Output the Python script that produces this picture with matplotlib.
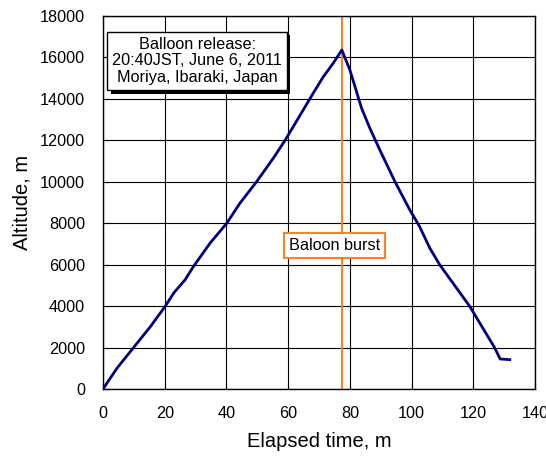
import matplotlib
matplotlib.use("Agg")
import matplotlib.pyplot as plt
import matplotlib.patheffects as pe

plt.rcParams['font.family'] = ['Liberation Sans', 'DejaVu Sans']

# Balloon flight profile
elapsed = [0, 4.5, 9.9, 15.3, 20.2, 23, 26.6, 29.3, 34.7, 40.1, 44.4, 49.8, 55.2,
           59.0, 64.9, 68.1, 71.4, 74.6, 77.4, 80.0, 83.8, 86.5, 89.7, 94.6,
           99.4, 102.6, 105.9, 109.1, 118.8, 126.9, 128.7, 132.3]
altitude = [0, 1000, 2000, 3000, 4000, 4650, 5270, 5910, 7040, 8000, 8970, 10010,
            11140, 12000, 13470, 14270, 15070, 15720, 16360, 15400, 13550, 12580,
            11540, 10010, 8650, 7840, 6800, 6000, 4000, 2000, 1450, 1410]
burst_time = 77.3
xticks = [0, 20, 40, 60, 80, 100, 120, 140]
yticks = [0, 2000, 4000, 6000, 8000, 10000, 12000, 14000, 16000, 18000]

fig = plt.figure(figsize=(5.46, 4.57), dpi=100)
ax = fig.add_axes([103 / 546, 1 - 389 / 457, 432 / 546, 373 / 457])

ax.plot(elapsed, altitude, color='#000080', lw=2.0, solid_capstyle='butt', zorder=3)
ax.axvline(burst_time, color='#FF7F27', lw=1.5, zorder=2)

ax.set_xlim(0, 140)
ax.set_ylim(0, 18000)
ax.set_xticks(xticks)
ax.set_yticks(yticks)
ax.grid(True, color='black', lw=0.8)
ax.tick_params(direction='in', length=4, labelsize=11.7, colors='black')
ax.tick_params(axis='x', pad=12)
ax.tick_params(axis='y', pad=13)
for s in ax.spines.values():
    s.set_linewidth(1.0)

ax.set_xlabel('Elapsed time, m', fontsize=14.5, labelpad=8)
ax.set_ylabel('Altitude, m', fontsize=14.5, labelpad=6)

t = ax.text(30.5, 15830, 'Balloon release:\n20:40JST, June 6, 2011\nMoriya, Ibaraki, Japan',
            ha='center', va='center', fontsize=11.7, linespacing=1.15, zorder=5,
            bbox=dict(boxstyle='square,pad=0.3', fc='white', ec='black', lw=1.0))
t.get_bbox_patch().set_path_effects([pe.withSimplePatchShadow(offset=(2.5, -2.5),
                                                              shadow_rgbFace='black', alpha=1)])

ax.text(75.1, 6910, 'Baloon burst', ha='center', va='center', fontsize=11.7, zorder=5,
        bbox=dict(boxstyle='square,pad=0.3', fc='white', ec='#FF7F27', lw=1.5))

fig.savefig('out.png', dpi=100)
